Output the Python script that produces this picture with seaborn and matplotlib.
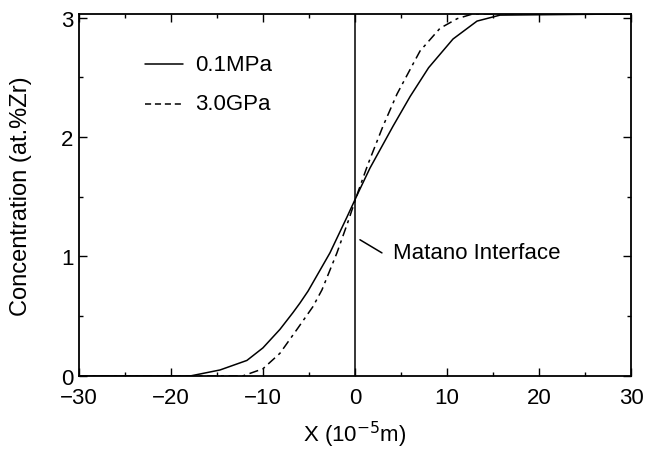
import matplotlib
matplotlib.use("Agg")
import matplotlib.pyplot as plt
from matplotlib.ticker import MultipleLocator
import seaborn as sns
import pandas as pd

sns.set_style("ticks")
plt.rcParams['font.family'] = ['Liberation Sans', 'DejaVu Sans']
plt.rcParams['text.color'] = 'black'
plt.rcParams['axes.labelcolor'] = 'black'

# values
x_01mpa = [-30, -17.9, -14.67, -11.74, -10.0, -8.15, -6.74, -5.98, -5.1, -2.72, -0.87,
           0.33, 1.63, 4.13, 6.0, 8.0, 10.65, 13.26, 15.76, 30]
c_01mpa = [0, 0, 0.05, 0.13, 0.235, 0.39, 0.53, 0.61, 0.71, 1.03, 1.33,
           1.53, 1.74, 2.09, 2.34, 2.58, 2.82, 2.97, 3.02, 3.03]
x_30gpa = [-30, -12.2, -10.0, -8.15, -6.3, -4.57, -3.59, -1.96, -0.76, 0.33,
           1.4, 3.04, 4.57, 6.3, 7.07, 9.24, 11.1, 12.8, 30]
c_30gpa = [0, 0, 0.06, 0.19, 0.39, 0.58, 0.72, 1.03, 1.29, 1.54,
           1.77, 2.09, 2.36, 2.61, 2.72, 2.91, 2.99, 3.03, 3.03]

df1 = pd.DataFrame({"x": x_01mpa, "c": c_01mpa})
df2 = pd.DataFrame({"x": x_30gpa, "c": c_30gpa})

fig = plt.figure(figsize=(6.46, 4.52), dpi=100)
ax = fig.add_axes([0.122, 0.166, 0.855, 0.801])

sns.lineplot(data=df1, x="x", y="c", ax=ax, color="black", lw=1.1, sort=False,
             solid_joinstyle="round")
sns.lineplot(data=df2, x="x", y="c", ax=ax, color="black", lw=1.1, sort=False,
             linestyle=(0, (6, 3, 2, 3)))

# Matano interface
ax.axvline(0, color="black", lw=1.1)
ax.plot([2.93, 0.54], [1.03, 1.14], color="black", lw=1.1)
ax.text(4.13, 1.03, "Matano Interface", fontsize=16, va="center", ha="left")

# legend drawn inside
ax.plot([-22.8, -18.7], [2.61, 2.61], color="black", lw=1.1)
ax.plot([-22.8, -18.7], [2.28, 2.28], color="black", lw=1.1, linestyle=(0, (4, 2.5)))
ax.text(-17.4, 2.61, "0.1MPa", fontsize=16, va="center")
ax.text(-17.4, 2.28, "3.0GPa", fontsize=16, va="center")

ax.set_xlim(-30, 30)
ax.set_ylim(0, 3.03)
ax.xaxis.set_major_locator(MultipleLocator(10))
ax.xaxis.set_minor_locator(MultipleLocator(5))
ax.yaxis.set_major_locator(MultipleLocator(1))
ax.yaxis.set_minor_locator(MultipleLocator(0.5))
ax.tick_params(which="both", direction="in", top=True, right=True, colors="black")
ax.tick_params(which="major", length=6, labelsize=16, width=1)
ax.tick_params(which="minor", length=3, width=1)
ax.tick_params(axis="x", which="major", pad=8)
ax.tick_params(axis="y", which="major", pad=4)
for s in ax.spines.values():
    s.set_linewidth(1.3)
    s.set_color("black")

ax.set_xlabel("X (10$^{-5}$m)", fontsize=16)
ax.set_ylabel("Concentration (at.%Zr)", fontsize=17)
ax.xaxis.set_label_coords(0.5, -0.118)
ax.yaxis.set_label_coords(-0.085, 0.5)

fig.savefig("out.png", dpi=100)
